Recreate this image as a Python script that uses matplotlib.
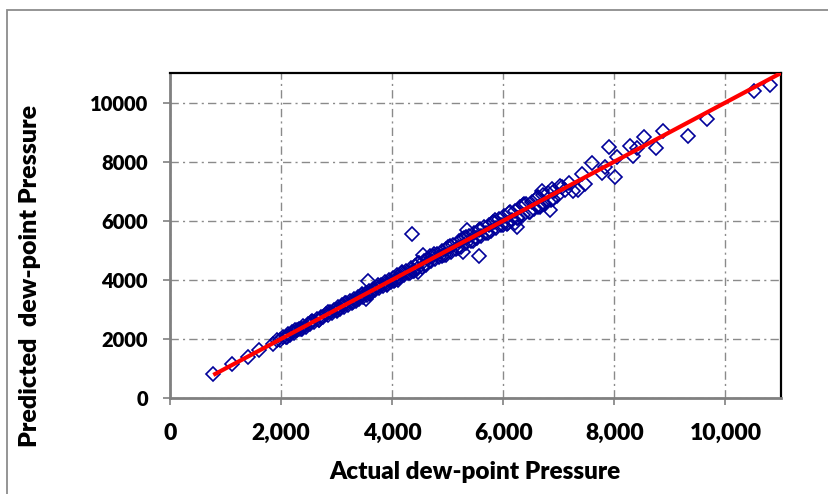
import matplotlib
matplotlib.use("Agg")
import matplotlib.pyplot as plt
from matplotlib.ticker import FuncFormatter
from matplotlib.patches import Rectangle

# ---- data ----
actual = [
    769, 1112, 1400, 1610, 1850,
    1920, 1980, 2030, 2080, 2120, 2160, 2200, 2240, 2280, 2320, 2360, 2400, 2440, 2480,
    2520, 2560, 2600, 2640, 2680, 2720, 2760, 2800, 2840, 2880, 2920, 2960, 3000,
    3030, 3060, 3100, 3130, 3170, 3200, 3240, 3270, 3310, 3340, 3380, 3410, 3450, 3480,
    3520, 3550, 3590, 3620, 3660, 3690, 3730, 3760, 3800, 3830, 3870, 3900, 3940, 3970,
    4010, 4050, 4090, 4130, 4170, 4210, 4250, 4290, 4330, 4370, 4410, 4450, 4490, 4530,
    4570, 4610, 4650, 4690, 4730, 4770, 4810, 4850, 4890, 4930, 4970,
    5010, 5060, 5100, 5150, 5200, 5240, 5290, 5330, 5380, 5420, 5470, 5510, 5560, 5600,
    5650, 5690, 5740, 5780, 5830, 5870, 5920, 5960,
    6010, 6060, 6110, 6160, 6210, 6260, 6310, 6360, 6410, 6460, 6510, 6560, 6610, 6660,
    6710, 6760, 6810, 6860, 6910, 6960, 7050, 7120,
    2100, 2250, 2380, 2530, 2690, 2850, 3010, 3150, 3300, 3450, 3600, 3750, 3900,
    4030, 4180, 4320, 4470, 4610, 4760, 4900, 5040, 5180, 5320, 5450, 5590, 5720,
    5860, 5990, 6120, 6240, 6370, 6490, 6620, 6740, 6880,
    4100, 4390, 4680, 4960, 5250, 5530, 5810, 6080, 6350, 6620, 6900,
    3563, 3532, 4365, 4547, 4463, 5346, 5274, 5565, 6247, 6217, 6835, 6698, 6667,
    7016, 7178, 7257, 7347, 7479, 7419, 7599, 7779, 7839, 7899, 8007, 8050, 8289,
    8337, 8529, 8410, 8752, 8878, 9322, 9659, 10511, 10799,
]
predicted = [
    800, 1140, 1398, 1624, 1838,
    1950, 1960, 2060, 2050, 2150, 2140, 2230, 2210, 2300, 2340, 2330, 2430, 2410, 2510,
    2490, 2590, 2570, 2670, 2650, 2750, 2730, 2830, 2810, 2910, 2890, 2990, 2970,
    3070, 3010, 3140, 3090, 3210, 3150, 3280, 3230, 3350, 3290, 3420, 3360, 3490, 3430,
    3560, 3500, 3630, 3570, 3700, 3640, 3770, 3710, 3840, 3780, 3910, 3850, 3980, 3920,
    4060, 3980, 4150, 4070, 4230, 4150, 4310, 4220, 4400, 4300, 4480, 4380, 4560, 4450,
    4640, 4540, 4720, 4620, 4810, 4690, 4890, 4770, 4960, 4850, 5040,
    5100, 4930, 5190, 5040, 5300, 5120, 5400, 5230, 5490, 5310, 5600, 5400, 5680, 5490,
    5780, 5580, 5870, 5660, 5970, 5760, 6060, 5850,
    6160, 5900, 6250, 6010, 6340, 6090, 6450, 6180, 6560, 6290, 6650, 6400, 6760, 6500,
    6870, 6560, 6950, 6700, 7000, 6840, 7150, 7050,
    2060, 2300, 2340, 2580, 2640, 2900, 2950, 3210, 3240, 3520, 3530, 3820, 3830,
    3950, 4260, 4230, 4560, 4510, 4870, 4800, 5150, 5060, 5450, 5330, 5730, 5590,
    6010, 5840, 6290, 6090, 6550, 6310, 6800, 6560, 7060,
    4000, 4290, 4790, 4840, 5380, 5400, 5960, 5910, 6520, 6450, 6730,
    3960, 3340, 5560, 4839, 4254, 5685, 4951, 4805, 5797, 5912, 6362, 7015, 6474,
    7174, 7286, 7015, 7039, 7242, 7580, 7963, 7601, 7827, 8504, 7465, 8168, 8528,
    8191, 8819, 8447, 8447, 9045, 8866, 9431, 10389, 10592,
]
fit_x = [780, 11000]
fit_y = [780, 11000]

x_ticks = [0, 2000, 4000, 6000, 8000, 10000]
y_ticks = [0, 2000, 4000, 6000, 8000, 10000]
x_label = "Actual dew-point Pressure"
y_label = "Predicted  dew-point Pressure"

W, H = 829, 494
fig = plt.figure(figsize=(W / 100, H / 100), dpi=100)
fig.patch.set_facecolor("white")

# outer chart-area border
fig.patches.append(Rectangle((7 / W, -0.1), 1.2, (H - 10) / H + 0.1,
                             transform=fig.transFigure, fill=False,
                             edgecolor="#8c8c8c", linewidth=1.3))

ax = fig.add_axes([170 / W, (H - 398) / H, (781 - 170) / W, (398 - 73) / H])
ax.set_xlim(0, 11000)
ax.set_ylim(0, 11000)

ax.grid(True, color="#8a8a8a", linewidth=1.0, linestyle=(0, (6, 3, 1.5, 3)))
ax.set_axisbelow(True)

ax.plot(actual, predicted, linestyle="none", marker="D", markersize=6.8,
        markerfacecolor="none", markeredgecolor="#00009a", markeredgewidth=1.2,
        zorder=3)
ax.plot(fit_x, fit_y, color="#ff0000", linewidth=3.0, zorder=4,
        solid_capstyle="butt")

ax.set_xticks(x_ticks)
ax.set_yticks(y_ticks)
ax.xaxis.set_major_formatter(FuncFormatter(lambda v, p: f"{int(v):,}"))
ax.yaxis.set_major_formatter(FuncFormatter(lambda v, p: f"{int(v)}"))

for s in ("left", "bottom"):
    ax.spines[s].set_color("#808080")
    ax.spines[s].set_linewidth(2.0)
for s in ("top", "right"):
    ax.spines[s].set_color("black")
    ax.spines[s].set_linewidth(1.6)

ax.tick_params(axis="both", direction="out", length=5, width=1.2, color="#808080")
ax.tick_params(axis="x", pad=13)
ax.tick_params(axis="y", pad=11)

for lab in ax.get_xticklabels():
    lab.set_fontfamily("Lato")
    lab.set_fontweight("heavy")
    lab.set_fontsize(16.5)
for lab in ax.get_yticklabels():
    lab.set_fontfamily("Lato")
    lab.set_fontweight("heavy")
    lab.set_fontsize(14.5)

fig.text(475 / W, 1 - 472 / H, x_label, ha="center", va="center",
         fontfamily="Lato", fontweight="heavy", fontsize=17.5)
fig.text(30 / W, 1 - 276 / H, y_label, ha="center", va="center", rotation=90,
         fontfamily="Lato", fontweight="heavy", fontsize=18)

fig.savefig("out.png", dpi=100)
